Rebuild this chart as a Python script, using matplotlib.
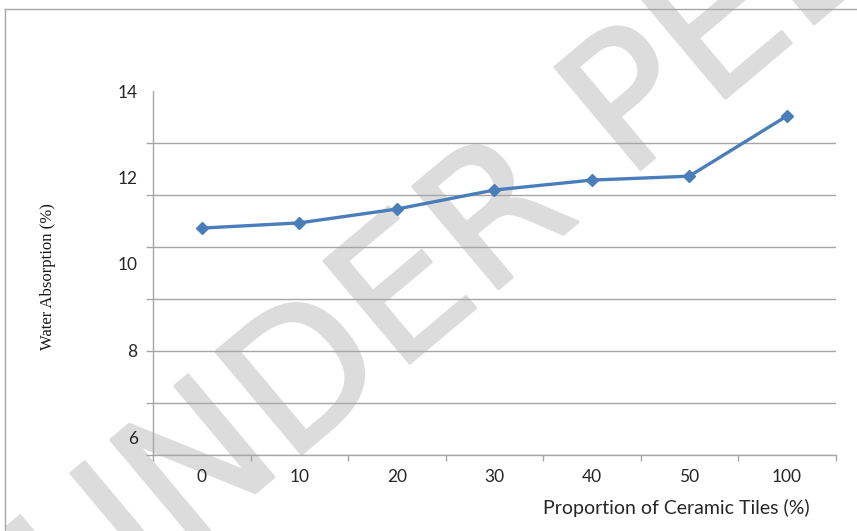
import matplotlib
matplotlib.use("Agg")
import matplotlib.pyplot as plt
import matplotlib.patheffects as pe
from matplotlib.lines import Line2D
import numpy as np

# Water absorption of mixes by proportion of ceramic tiles
categories = ["0", "10", "20", "30", "40", "50", "100"]
water_absorption = [10.83, 10.95, 11.27, 11.71, 11.94, 12.03, 13.42]
y_tick_values = [6, 8, 10, 12, 14]

W, H = 857, 531
fig = plt.figure(figsize=(W / 100, H / 100), dpi=100)
fig.patch.set_facecolor("white")

ax = fig.add_axes([153 / W, 1 - 455 / H, (835.5 - 153) / W, (455 - 91) / H])

y_bottom = 6 - 18 / 43.25
y_top = 14
ax.set_ylim(y_bottom, y_top)
ax.set_xlim(-0.5, len(categories) - 0.5)

grid_color = "#a6a6a6"
label_font = "Lato"

# horizontal gridlines with small tick marks on the value axis
ax.set_yticks(np.linspace(y_bottom, y_top, 8), minor=True)
ax.set_yticks(y_tick_values)
ax.set_yticklabels([str(v) for v in y_tick_values], fontsize=12.5,
                   family=label_font, color="#262626")
ax.tick_params(axis="y", which="major", length=0, pad=11)
ax.tick_params(axis="y", which="minor", length=5, color=grid_color, width=1)
ax.grid(axis="y", which="minor", color=grid_color, linewidth=1)

# category axis: marks between categories, labels centered
x = np.arange(len(categories))
ax.set_xticks(np.arange(-0.5, len(categories), 1), minor=True)
ax.set_xticks(x)
ax.set_xticklabels(categories, fontsize=12.5, family=label_font, color="#262626")
ax.tick_params(axis="x", which="major", length=0, pad=10)
ax.tick_params(axis="x", which="minor", length=4, color=grid_color, width=1)

for side in ("top", "right"):
    ax.spines[side].set_visible(False)
for side in ("left", "bottom"):
    ax.spines[side].set_color(grid_color)
    ax.spines[side].set_linewidth(1)

ax.plot(x, water_absorption, color="#4a7ebb", linewidth=2.4, marker="D",
        markersize=6.5, markerfacecolor="#4a7ebb", markeredgecolor="#4a7ebb",
        zorder=3, clip_on=False)

# axis titles
fig.text(48 / W, 1 - 277 / H, "Water Absorption (%)", rotation=90,
         ha="center", va="center", fontsize=12, family="Liberation Serif",
         color="#1a1a1a")
fig.text(676 / W, 1 - 508 / H, "Proportion of Ceramic Tiles (%)",
         ha="center", va="center", fontsize=14, family=label_font,
         color="#262626")

# chart-area border (left and top edges)
fig.add_artist(Line2D([5 / W, 5 / W], [-0.1, 1 - 9 / H], color=grid_color,
                      linewidth=1, transform=fig.transFigure))
fig.add_artist(Line2D([5 / W, 1.1], [1 - 9 / H, 1 - 9 / H], color=grid_color,
                      linewidth=1, transform=fig.transFigure))

# diagonal review watermark
wm = ax.text(80 / W, 1 - 640 / H, "UNDER PEER REVIEW", transform=fig.transFigure,
             rotation=40, rotation_mode="anchor", ha="left", va="baseline",
             fontsize=132, family="DejaVu Sans", weight="normal",
             color="#dcdcdc", zorder=1.4, clip_on=False)
wm.set_path_effects([pe.Stroke(linewidth=2, foreground="#dcdcdc",
                               joinstyle="round", capstyle="round"),
                     pe.Normal()])

fig.savefig("out.png", dpi=100, facecolor="white")
